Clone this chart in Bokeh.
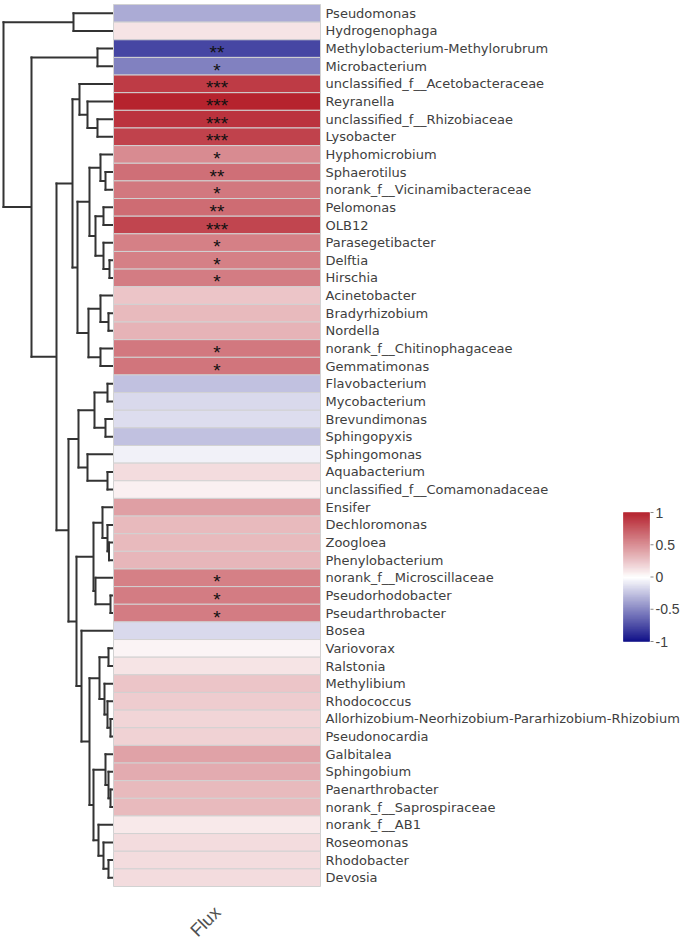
import math
from bokeh.plotting import figure
from bokeh.models import ColumnDataSource, Range1d, LinearColorMapper
from bokeh.embed import file_html
from bokeh.resources import INLINE
from bokeh.core.properties import value

# ---------------- data ----------------
genera = [
    "Pseudomonas", "Hydrogenophaga", "Methylobacterium-Methylorubrum", "Microbacterium",
    "unclassified_f__Acetobacteraceae", "Reyranella", "unclassified_f__Rhizobiaceae", "Lysobacter",
    "Hyphomicrobium", "Sphaerotilus", "norank_f__Vicinamibacteraceae", "Pelomonas", "OLB12",
    "Parasegetibacter", "Delftia", "Hirschia", "Acinetobacter", "Bradyrhizobium", "Nordella",
    "norank_f__Chitinophagaceae", "Gemmatimonas", "Flavobacterium", "Mycobacterium",
    "Brevundimonas", "Sphingopyxis", "Sphingomonas", "Aquabacterium",
    "unclassified_f__Comamonadaceae", "Ensifer", "Dechloromonas", "Zoogloea", "Phenylobacterium",
    "norank_f__Microscillaceae", "Pseudorhodobacter", "Pseudarthrobacter", "Bosea", "Variovorax",
    "Ralstonia", "Methylibium", "Rhodococcus", "Allorhizobium-Neorhizobium-Pararhizobium-Rhizobium",
    "Pseudonocardia", "Galbitalea", "Sphingobium", "Paenarthrobacter", "norank_f__Saprospiraceae",
    "norank_f__AB1", "Roseomonas", "Rhodobacter", "Devosia",
]

flux_r = [
    -0.33, 0.12, -0.72, -0.50,
    0.85, 0.95, 0.88, 0.82,
    0.50, 0.62, 0.58, 0.64, 0.80,
    0.55, 0.55, 0.57, 0.25, 0.30, 0.33,
    0.58, 0.60, -0.25, -0.15,
    -0.14, -0.25, -0.06, 0.15,
    0.07, 0.42, 0.30, 0.30, 0.32,
    0.55, 0.57, 0.57, -0.15, 0.05,
    0.12, 0.25, 0.22, 0.18,
    0.20, 0.40, 0.36, 0.30, 0.30,
    0.10, 0.15, 0.15, 0.15,
]

signif = [
    "", "", "**", "*",
    "***", "***", "***", "***",
    "*", "**", "*", "**", "***",
    "*", "*", "*", "", "", "",
    "*", "*", "", "",
    "", "", "", "",
    "", "", "", "", "",
    "*", "*", "*", "", "",
    "", "", "", "",
    "", "", "", "", "",
    "", "", "", "",
]

x_label = ["Flux"]
cbar_ticks = [-1, -0.5, 0, 0.5, 1]
cbar_labels = ["-1", "-0.5", "0", "0.5", "1"]

# hierarchical clustering merges: (top child, bottom child, height); leaves 0..49, merges 50..
merges = [
    (2, 3, 16),     # 50
    (0, 1, 40),     # 51
    (6, 7, 16),     # 52
    (5, 52, 26),    # 53
    (4, 53, 34),    # 54
    (9, 10, 8),     # 55
    (8, 55, 13),    # 56
    (11, 12, 10),   # 57
    (14, 15, 4),    # 58
    (13, 58, 10),   # 59
    (57, 59, 18),   # 60
    (56, 60, 24),   # 61
    (17, 18, 5),    # 62
    (16, 62, 13),   # 63
    (19, 20, 13),   # 64
    (63, 64, 25),   # 65
    (61, 65, 36),   # 66
    (54, 66, 41),   # 67
    (21, 22, 6),    # 68
    (23, 24, 8),    # 69
    (68, 69, 19),   # 70
    (26, 27, 6),    # 71
    (25, 71, 26),   # 72
    (70, 72, 35),   # 73
    (30, 31, 4.5),  # 74
    (29, 74, 6),    # 75
    (28, 75, 11),   # 76
    (33, 34, 3),    # 77
    (32, 77, 18),   # 78
    (76, 78, 20),   # 79
    (36, 37, 5),    # 80
    (40, 41, 3),    # 81
    (39, 81, 6),    # 82
    (38, 82, 9),    # 83
    (80, 83, 14),   # 84
    (44, 45, 3),    # 85
    (43, 85, 5),    # 86
    (42, 86, 8),    # 87
    (48, 49, 5),    # 88
    (47, 88, 10),   # 89
    (46, 89, 15),   # 90
    (87, 90, 20),   # 91
    (84, 91, 24),   # 92
    (35, 92, 32),   # 93
    (79, 93, 37),   # 94
    (73, 94, 45),   # 95
    (67, 95, 57),   # 96
    (50, 96, 82),   # 97
    (51, 97, 110),  # 98
]

# ---------------- layout ----------------
W, H = 685, 943
TOP_PX = 4
ROW_PX = 17.64
HEAT_L, HEAT_R = 113, 320
DEND_SCALE = (HEAT_L - 3) / max(m[2] for m in merges)

def py2row(py):
    return (py - TOP_PX) / ROW_PX

def xd(h):
    return HEAT_L - h * DEND_SCALE

def lerp(c1, c2, t):
    return "#%02x%02x%02x" % tuple(int(round(a + (b - a) * t)) for a, b in zip(c1, c2))

navy, white, red = (0, 0, 128), (255, 255, 255), (178, 24, 36)
palette = [lerp(navy, white, i / 127) for i in range(128)] + [lerp(white, red, i / 127) for i in range(128)]
mapper = LinearColorMapper(palette=palette, low=-1, high=1)

p = figure(width=W, height=H, output_backend="svg", toolbar_location=None,
           x_range=Range1d(0, W), y_range=Range1d(py2row(H), py2row(0)),
           min_border=0, min_border_left=0, min_border_right=0,
           min_border_top=0, min_border_bottom=0)
p.axis.visible = False
p.grid.visible = False
p.outline_line_color = None
p.background_fill_color = "white"

# dendrogram
ypos = {i: i + 0.5 for i in range(len(genera))}
hgt = {i: 0.0 for i in range(len(genera))}
x0, y0, x1, y1 = [], [], [], []
for k, (a, b, h) in enumerate(merges):
    node = len(genera) + k
    ypos[node] = (ypos[a] + ypos[b]) / 2
    hgt[node] = h
    x0 += [xd(h), xd(h), xd(h)]
    y0 += [ypos[a], ypos[a], ypos[b]]
    x1 += [xd(h), xd(hgt[a]) - 1, xd(hgt[b]) - 1]
    y1 += [ypos[b], ypos[a], ypos[b]]
p.segment(x0=x0, y0=y0, x1=x1, y1=y1, line_color="#333333", line_width=2, line_cap="square")

# heatmap
n = len(genera)
src = ColumnDataSource(dict(
    top=[i for i in range(n)],
    bottom=[i + 1 for i in range(n)],
    v=flux_r, s=signif, name=genera,
    yc=[i + 0.5 for i in range(n)],
    ys=[i + 0.5 + 4.0 / ROW_PX for i in range(n)],
))
p.quad(left=HEAT_L, right=HEAT_R, top="top", bottom="bottom", source=src,
       fill_color={"field": "v", "transform": mapper}, line_color="#d2d2d2", line_width=1)

p.text(x=(HEAT_L + HEAT_R) / 2, y="ys", text="s", source=src, text_align="center",
       text_baseline="middle", text_font=value("Liberation Sans"), text_font_size="19px",
       text_color="#111111")

p.text(x=HEAT_R + 5, y="yc", text="name", source=src, text_align="left",
       text_baseline="middle", text_font=value("DejaVu Sans"), text_font_size="13px",
       text_color="#404040")

p.text(x=[205], y=[py2row(921)], text=x_label, angle=math.pi / 4,
       text_align="center", text_baseline="middle", text_font=value("Liberation Sans"),
       text_font_size="18px", text_color="#505050")

# colour bar (drawn from the colour mapper's range)
CB_L, CB_R, CB_TOP, CB_BOT = 623, 649, 512, 641
steps = 128
vals = [-1 + 2 * (k + 0.5) / steps for k in range(steps)]
def v2row(v):
    return py2row(CB_BOT - (v + 1) / 2 * (CB_BOT - CB_TOP))
cb_src = ColumnDataSource(dict(
    v=vals,
    top=[v2row(-1 + 2 * (k + 1) / steps) for k in range(steps)],
    bottom=[v2row(-1 + 2 * k / steps) for k in range(steps)],
))
p.quad(left=CB_L, right=CB_R, top="top", bottom="bottom", source=cb_src,
       fill_color={"field": "v", "transform": mapper}, line_color={"field": "v", "transform": mapper},
       line_width=0.5)
p.segment(x0=[CB_R + 1] * len(cbar_ticks), x1=[CB_R + 4] * len(cbar_ticks),
          y0=[v2row(t) for t in cbar_ticks], y1=[v2row(t) for t in cbar_ticks],
          line_color="#888888", line_width=1)
p.text(x=[CB_R + 6] * len(cbar_ticks), y=[v2row(t) for t in cbar_ticks], text=cbar_labels,
       text_align="left", text_baseline="middle", text_font=value("Liberation Sans"),
       text_font_size="14px", text_color="#404040")

open("out.html", "w").write(file_html(p, INLINE))
